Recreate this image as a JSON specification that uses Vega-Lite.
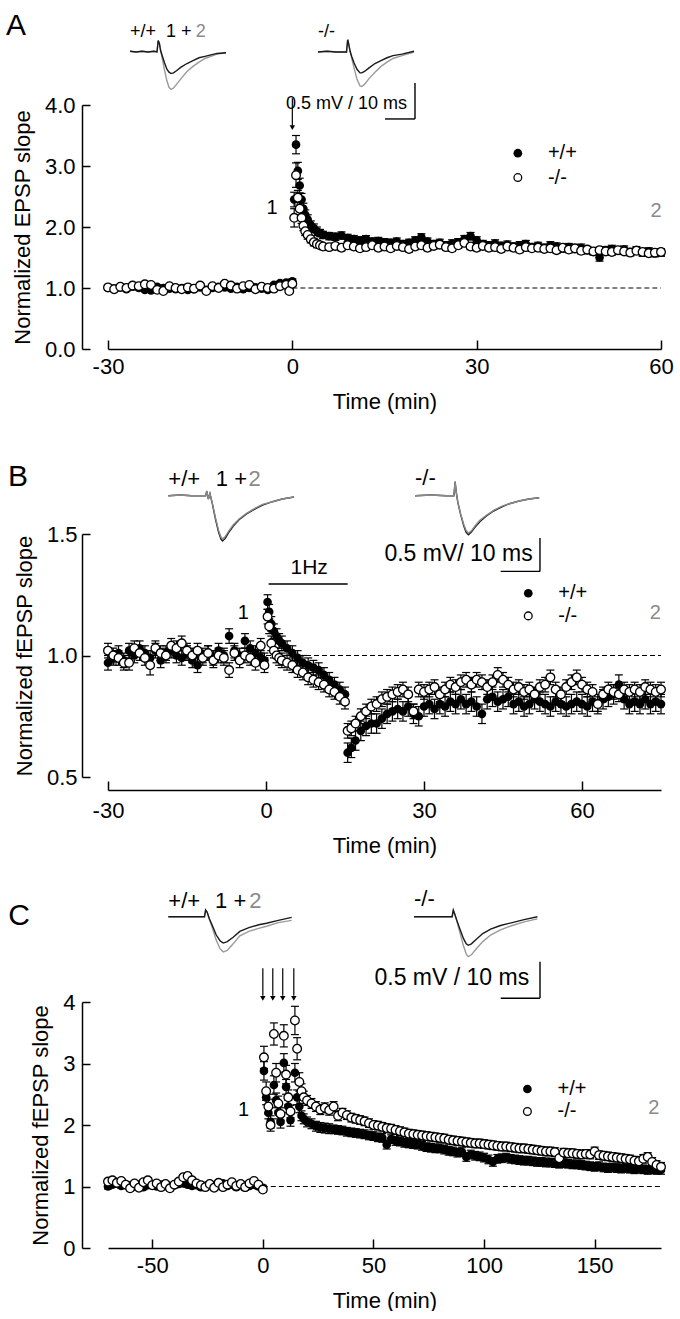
{
"$schema":"https://vega.github.io/schema/vega-lite/v6.json",
"background":"white",
"padding":{"left":6,"top":0,"right":0,"bottom":0},
"bounds":"flush",
"spacing":0,
"config":{"view":{"stroke":null},"font":"Liberation Sans",
"axis":{"grid":false,"labelFont":"Liberation Sans","titleFont":"Liberation Sans","labelFontSize":22,"titleFontSize":22,"titleFontWeight":"normal","labelColor":"black","titleColor":"black","domainColor":"black","tickColor":"black","domainWidth":1.5,"tickWidth":1.5,"labelFlush":false,"labelOverlap":false}},
"datasets":{
"A":[
{"t":-30,"wt":1.00,"se1":0.03,"ko":1.01,"se2":0.03},{"t":-29,"wt":0.99,"se1":0.03,"ko":0.98,"se2":0.03},{"t":-28,"wt":1.01,"se1":0.03,"ko":1.02,"se2":0.03},{"t":-27,"wt":0.98,"se1":0.03,"ko":1.00,"se2":0.03},{"t":-26,"wt":1.02,"se1":0.03,"ko":1.04,"se2":0.03},{"t":-25,"wt":1.00,"se1":0.03,"ko":1.03,"se2":0.03},{"t":-24,"wt":0.97,"se1":0.03,"ko":1.06,"se2":0.03},{"t":-23,"wt":0.96,"se1":0.03,"ko":1.05,"se2":0.03},{"t":-22,"wt":1.02,"se1":0.03,"ko":0.97,"se2":0.03},{"t":-21,"wt":1.00,"se1":0.03,"ko":0.95,"se2":0.03},{"t":-20,"wt":0.99,"se1":0.03,"ko":1.03,"se2":0.03},{"t":-19,"wt":0.98,"se1":0.03,"ko":1.00,"se2":0.03},{"t":-18,"wt":1.00,"se1":0.03,"ko":0.98,"se2":0.03},{"t":-17,"wt":0.97,"se1":0.03,"ko":1.01,"se2":0.03},{"t":-16,"wt":0.98,"se1":0.03,"ko":0.99,"se2":0.03},{"t":-15,"wt":1.01,"se1":0.03,"ko":1.04,"se2":0.03},{"t":-14,"wt":0.97,"se1":0.03,"ko":0.95,"se2":0.03},{"t":-13,"wt":1.00,"se1":0.03,"ko":1.03,"se2":0.03},{"t":-12,"wt":1.02,"se1":0.03,"ko":1.00,"se2":0.03},{"t":-11,"wt":1.01,"se1":0.03,"ko":1.07,"se2":0.03},{"t":-10,"wt":0.99,"se1":0.03,"ko":1.04,"se2":0.03},{"t":-9,"wt":1.02,"se1":0.03,"ko":0.99,"se2":0.03},{"t":-8,"wt":0.98,"se1":0.03,"ko":1.03,"se2":0.03},{"t":-7,"wt":1.00,"se1":0.03,"ko":1.05,"se2":0.03},{"t":-6,"wt":1.01,"se1":0.03,"ko":0.98,"se2":0.03},{"t":-5,"wt":0.99,"se1":0.03,"ko":1.02,"se2":0.03},{"t":-4,"wt":0.97,"se1":0.03,"ko":1.00,"se2":0.03},{"t":-3,"wt":1.05,"se1":0.03,"ko":0.99,"se2":0.03},{"t":-2,"wt":1.08,"se1":0.03,"ko":1.03,"se2":0.03},{"t":-1,"wt":1.09,"se1":0.03,"ko":1.05,"se2":0.03},{"t":-0.5,"wt":1.07,"se1":0.03,"ko":0.95,"se2":0.04},{"t":0,"wt":1.11,"se1":0.04,"ko":1.07,"se2":0.04},
{"t":0.3,"wt":2.45,"se1":0.12,"ko":2.15,"se2":0.15},{"t":0.6,"wt":3.35,"se1":0.15,"ko":2.85,"se2":0.20},{"t":0.9,"wt":2.92,"se1":0.14,"ko":2.48,"se2":0.12},{"t":1.2,"wt":2.68,"se1":0.12,"ko":2.30,"se2":0.10},{"t":1.5,"wt":2.45,"se1":0.10,"ko":2.15,"se2":0.09},{"t":1.8,"wt":2.30,"se1":0.09,"ko":2.02,"se2":0.08},{"t":2.1,"wt":2.20,"se1":0.08,"ko":1.93,"se2":0.07},{"t":2.5,"wt":2.12,"se1":0.08,"ko":1.87,"se2":0.07},{"t":3,"wt":2.03,"se1":0.07,"ko":1.80,"se2":0.06},{"t":3.5,"wt":1.98,"se1":0.07,"ko":1.75,"se2":0.06},{"t":4,"wt":1.93,"se1":0.07,"ko":1.72,"se2":0.06},{"t":4.5,"wt":1.90,"se1":0.06,"ko":1.70,"se2":0.05},
{"t":5,"wt":1.87,"se1":0.06,"ko":1.68,"se2":0.05},{"t":6,"wt":1.85,"se1":0.06,"ko":1.67,"se2":0.05},{"t":7,"wt":1.84,"se1":0.06,"ko":1.69,"se2":0.05},{"t":8,"wt":1.86,"se1":0.06,"ko":1.66,"se2":0.05},{"t":9,"wt":1.82,"se1":0.06,"ko":1.70,"se2":0.05},{"t":10,"wt":1.80,"se1":0.06,"ko":1.68,"se2":0.05},{"t":11,"wt":1.78,"se1":0.06,"ko":1.65,"se2":0.05},{"t":12,"wt":1.80,"se1":0.06,"ko":1.67,"se2":0.05},{"t":13,"wt":1.76,"se1":0.06,"ko":1.70,"se2":0.05},{"t":14,"wt":1.77,"se1":0.06,"ko":1.66,"se2":0.05},{"t":15,"wt":1.75,"se1":0.06,"ko":1.68,"se2":0.05},{"t":16,"wt":1.74,"se1":0.06,"ko":1.65,"se2":0.05},{"t":17,"wt":1.76,"se1":0.06,"ko":1.69,"se2":0.05},{"t":18,"wt":1.72,"se1":0.06,"ko":1.67,"se2":0.05},{"t":19,"wt":1.74,"se1":0.06,"ko":1.64,"se2":0.05},{"t":20,"wt":1.78,"se1":0.06,"ko":1.68,"se2":0.05},{"t":21,"wt":1.83,"se1":0.06,"ko":1.70,"se2":0.05},{"t":22,"wt":1.76,"se1":0.06,"ko":1.66,"se2":0.05},{"t":23,"wt":1.72,"se1":0.06,"ko":1.69,"se2":0.05},{"t":24,"wt":1.74,"se1":0.06,"ko":1.71,"se2":0.05},{"t":25,"wt":1.70,"se1":0.06,"ko":1.67,"se2":0.05},{"t":26,"wt":1.73,"se1":0.06,"ko":1.65,"se2":0.05},{"t":27,"wt":1.75,"se1":0.06,"ko":1.70,"se2":0.05},{"t":28,"wt":1.80,"se1":0.06,"ko":1.74,"se2":0.05},{"t":29,"wt":1.85,"se1":0.06,"ko":1.68,"se2":0.05},{"t":30,"wt":1.78,"se1":0.06,"ko":1.66,"se2":0.05},{"t":31,"wt":1.72,"se1":0.06,"ko":1.69,"se2":0.05},{"t":32,"wt":1.70,"se1":0.06,"ko":1.66,"se2":0.05},{"t":33,"wt":1.73,"se1":0.06,"ko":1.67,"se2":0.05},{"t":34,"wt":1.69,"se1":0.06,"ko":1.64,"se2":0.05},{"t":35,"wt":1.71,"se1":0.06,"ko":1.68,"se2":0.05},{"t":36,"wt":1.68,"se1":0.06,"ko":1.66,"se2":0.05},{"t":37,"wt":1.70,"se1":0.06,"ko":1.63,"se2":0.05},{"t":38,"wt":1.72,"se1":0.06,"ko":1.67,"se2":0.05},{"t":39,"wt":1.67,"se1":0.06,"ko":1.65,"se2":0.05},{"t":40,"wt":1.69,"se1":0.06,"ko":1.66,"se2":0.05},{"t":41,"wt":1.66,"se1":0.06,"ko":1.64,"se2":0.05},{"t":42,"wt":1.70,"se1":0.06,"ko":1.65,"se2":0.05},{"t":43,"wt":1.68,"se1":0.06,"ko":1.62,"se2":0.05},{"t":44,"wt":1.65,"se1":0.06,"ko":1.66,"se2":0.05},{"t":45,"wt":1.67,"se1":0.06,"ko":1.63,"se2":0.05},{"t":46,"wt":1.64,"se1":0.06,"ko":1.65,"se2":0.05},{"t":47,"wt":1.66,"se1":0.06,"ko":1.61,"se2":0.05},{"t":48,"wt":1.62,"se1":0.06,"ko":1.63,"se2":0.05},{"t":49,"wt":1.60,"se1":0.06,"ko":1.60,"se2":0.05},{"t":50,"wt":1.50,"se1":0.06,"ko":1.62,"se2":0.05},{"t":51,"wt":1.62,"se1":0.06,"ko":1.60,"se2":0.05},{"t":52,"wt":1.64,"se1":0.06,"ko":1.59,"se2":0.05},{"t":53,"wt":1.61,"se1":0.06,"ko":1.62,"se2":0.05},{"t":54,"wt":1.63,"se1":0.06,"ko":1.60,"se2":0.05},{"t":55,"wt":1.59,"se1":0.06,"ko":1.58,"se2":0.05},{"t":56,"wt":1.62,"se1":0.06,"ko":1.61,"se2":0.05},{"t":57,"wt":1.58,"se1":0.06,"ko":1.59,"se2":0.05},{"t":58,"wt":1.60,"se1":0.06,"ko":1.57,"se2":0.05},{"t":59,"wt":1.57,"se1":0.06,"ko":1.58,"se2":0.05},{"t":60,"wt":1.58,"se1":0.06,"ko":1.59,"se2":0.05}],
"B":[
{"t":-30,"wt":0.97,"se1":0.03,"ko":1.02,"se2":0.03},{"t":-29,"wt":0.99,"se1":0.03,"ko":1.00,"se2":0.03},{"t":-28,"wt":1.01,"se1":0.03,"ko":0.99,"se2":0.03},{"t":-27,"wt":0.98,"se1":0.03,"ko":0.97,"se2":0.03},{"t":-26,"wt":1.02,"se1":0.03,"ko":0.97,"se2":0.03},{"t":-25,"wt":1.00,"se1":0.03,"ko":1.03,"se2":0.03},{"t":-24,"wt":1.03,"se1":0.03,"ko":1.01,"se2":0.03},{"t":-23,"wt":1.01,"se1":0.03,"ko":0.99,"se2":0.03},{"t":-22,"wt":0.99,"se1":0.03,"ko":0.96,"se2":0.04},{"t":-21,"wt":1.02,"se1":0.03,"ko":1.03,"se2":0.03},{"t":-20,"wt":0.98,"se1":0.03,"ko":1.01,"se2":0.03},{"t":-19,"wt":1.01,"se1":0.03,"ko":1.00,"se2":0.03},{"t":-18,"wt":1.02,"se1":0.03,"ko":1.04,"se2":0.03},{"t":-17,"wt":1.00,"se1":0.03,"ko":1.03,"se2":0.03},{"t":-16,"wt":0.99,"se1":0.03,"ko":1.05,"se2":0.03},{"t":-15,"wt":1.01,"se1":0.03,"ko":1.02,"se2":0.03},{"t":-14,"wt":0.98,"se1":0.03,"ko":1.00,"se2":0.03},{"t":-13,"wt":0.96,"se1":0.03,"ko":1.02,"se2":0.03},{"t":-12,"wt":1.00,"se1":0.03,"ko":0.99,"se2":0.03},{"t":-11,"wt":1.01,"se1":0.03,"ko":1.01,"se2":0.03},{"t":-10,"wt":0.99,"se1":0.03,"ko":0.98,"se2":0.03},{"t":-9,"wt":1.02,"se1":0.03,"ko":1.00,"se2":0.03},{"t":-8,"wt":1.00,"se1":0.03,"ko":0.99,"se2":0.03},{"t":-7,"wt":1.08,"se1":0.03,"ko":0.94,"se2":0.03},{"t":-6,"wt":1.02,"se1":0.03,"ko":1.01,"se2":0.03},{"t":-5,"wt":1.00,"se1":0.03,"ko":0.98,"se2":0.03},{"t":-4,"wt":1.06,"se1":0.03,"ko":1.00,"se2":0.03},{"t":-3,"wt":1.03,"se1":0.03,"ko":0.99,"se2":0.03},{"t":-2,"wt":1.01,"se1":0.03,"ko":0.97,"se2":0.03},{"t":-1,"wt":0.99,"se1":0.03,"ko":1.04,"se2":0.03},{"t":-0.3,"wt":0.98,"se1":0.03,"ko":0.96,"se2":0.03},
{"t":0.3,"wt":1.22,"se1":0.03,"ko":1.16,"se2":0.03},{"t":0.6,"wt":1.18,"se1":0.03,"ko":1.12,"se2":0.03},{"t":1,"wt":1.13,"se1":0.03,"ko":1.05,"se2":0.03},{"t":1.5,"wt":1.10,"se1":0.03,"ko":1.02,"se2":0.03},{"t":2,"wt":1.08,"se1":0.03,"ko":1.00,"se2":0.03},{"t":2.5,"wt":1.06,"se1":0.03,"ko":0.99,"se2":0.03},{"t":3,"wt":1.05,"se1":0.03,"ko":0.98,"se2":0.03},{"t":4,"wt":1.03,"se1":0.03,"ko":0.97,"se2":0.03},{"t":5,"wt":1.01,"se1":0.03,"ko":0.96,"se2":0.03},{"t":6,"wt":0.99,"se1":0.03,"ko":0.94,"se2":0.03},{"t":7,"wt":0.97,"se1":0.03,"ko":0.93,"se2":0.03},{"t":8,"wt":0.96,"se1":0.03,"ko":0.91,"se2":0.03},{"t":9,"wt":0.95,"se1":0.03,"ko":0.90,"se2":0.03},{"t":10,"wt":0.94,"se1":0.03,"ko":0.89,"se2":0.03},{"t":11,"wt":0.92,"se1":0.03,"ko":0.88,"se2":0.03},{"t":12,"wt":0.90,"se1":0.03,"ko":0.86,"se2":0.03},{"t":13,"wt":0.88,"se1":0.03,"ko":0.85,"se2":0.03},{"t":14,"wt":0.86,"se1":0.03,"ko":0.83,"se2":0.03},{"t":15,"wt":0.84,"se1":0.03,"ko":0.81,"se2":0.03},
{"t":15.5,"wt":0.60,"se1":0.04,"ko":0.69,"se2":0.03},{"t":16.2,"wt":0.62,"se1":0.04,"ko":0.70,"se2":0.03},{"t":17,"wt":0.65,"se1":0.04,"ko":0.72,"se2":0.03},{"t":18,"wt":0.69,"se1":0.04,"ko":0.75,"se2":0.03},{"t":19,"wt":0.71,"se1":0.04,"ko":0.77,"se2":0.03},{"t":20,"wt":0.72,"se1":0.04,"ko":0.79,"se2":0.03},{"t":21,"wt":0.72,"se1":0.04,"ko":0.80,"se2":0.03},{"t":22,"wt":0.74,"se1":0.04,"ko":0.82,"se2":0.03},{"t":23,"wt":0.76,"se1":0.04,"ko":0.83,"se2":0.03},{"t":24,"wt":0.77,"se1":0.04,"ko":0.84,"se2":0.03},{"t":25,"wt":0.78,"se1":0.04,"ko":0.85,"se2":0.03},{"t":26,"wt":0.77,"se1":0.04,"ko":0.86,"se2":0.03},{"t":27,"wt":0.79,"se1":0.04,"ko":0.84,"se2":0.03},{"t":28,"wt":0.76,"se1":0.04,"ko":0.77,"se2":0.03},{"t":29,"wt":0.75,"se1":0.04,"ko":0.86,"se2":0.03},{"t":30,"wt":0.79,"se1":0.04,"ko":0.85,"se2":0.03},{"t":31,"wt":0.80,"se1":0.04,"ko":0.86,"se2":0.03},{"t":32,"wt":0.78,"se1":0.04,"ko":0.87,"se2":0.03},{"t":33,"wt":0.80,"se1":0.04,"ko":0.84,"se2":0.03},{"t":34,"wt":0.79,"se1":0.04,"ko":0.86,"se2":0.03},{"t":35,"wt":0.81,"se1":0.04,"ko":0.88,"se2":0.03},{"t":36,"wt":0.80,"se1":0.04,"ko":0.87,"se2":0.03},{"t":37,"wt":0.82,"se1":0.04,"ko":0.89,"se2":0.03},{"t":38,"wt":0.80,"se1":0.04,"ko":0.90,"se2":0.03},{"t":39,"wt":0.81,"se1":0.04,"ko":0.88,"se2":0.03},{"t":40,"wt":0.79,"se1":0.04,"ko":0.90,"se2":0.03},{"t":41,"wt":0.76,"se1":0.04,"ko":0.89,"se2":0.03},{"t":42,"wt":0.82,"se1":0.04,"ko":0.87,"se2":0.03},{"t":43,"wt":0.83,"se1":0.04,"ko":0.89,"se2":0.03},{"t":44,"wt":0.81,"se1":0.04,"ko":0.92,"se2":0.03},{"t":45,"wt":0.82,"se1":0.04,"ko":0.90,"se2":0.03},{"t":46,"wt":0.83,"se1":0.04,"ko":0.88,"se2":0.03},{"t":47,"wt":0.80,"se1":0.04,"ko":0.86,"se2":0.03},{"t":48,"wt":0.81,"se1":0.04,"ko":0.87,"se2":0.03},{"t":49,"wt":0.79,"se1":0.04,"ko":0.85,"se2":0.03},{"t":50,"wt":0.80,"se1":0.04,"ko":0.86,"se2":0.03},{"t":51,"wt":0.82,"se1":0.04,"ko":0.84,"se2":0.03},{"t":52,"wt":0.81,"se1":0.04,"ko":0.87,"se2":0.03},{"t":53,"wt":0.80,"se1":0.04,"ko":0.88,"se2":0.03},{"t":54,"wt":0.79,"se1":0.04,"ko":0.91,"se2":0.03},{"t":55,"wt":0.81,"se1":0.04,"ko":0.86,"se2":0.03},{"t":56,"wt":0.80,"se1":0.04,"ko":0.84,"se2":0.03},{"t":57,"wt":0.79,"se1":0.04,"ko":0.87,"se2":0.03},{"t":58,"wt":0.80,"se1":0.04,"ko":0.89,"se2":0.03},{"t":59,"wt":0.81,"se1":0.04,"ko":0.91,"se2":0.03},{"t":60,"wt":0.80,"se1":0.04,"ko":0.88,"se2":0.03},{"t":61,"wt":0.79,"se1":0.04,"ko":0.86,"se2":0.03},{"t":62,"wt":0.81,"se1":0.04,"ko":0.85,"se2":0.03},{"t":63,"wt":0.80,"se1":0.04,"ko":0.80,"se2":0.03},{"t":64,"wt":0.82,"se1":0.04,"ko":0.84,"se2":0.03},{"t":65,"wt":0.83,"se1":0.04,"ko":0.86,"se2":0.03},{"t":66,"wt":0.84,"se1":0.04,"ko":0.85,"se2":0.03},{"t":67,"wt":0.88,"se1":0.04,"ko":0.84,"se2":0.03},{"t":68,"wt":0.82,"se1":0.04,"ko":0.86,"se2":0.03},{"t":69,"wt":0.80,"se1":0.04,"ko":0.85,"se2":0.03},{"t":70,"wt":0.81,"se1":0.04,"ko":0.86,"se2":0.03},{"t":71,"wt":0.80,"se1":0.04,"ko":0.85,"se2":0.03},{"t":72,"wt":0.82,"se1":0.04,"ko":0.87,"se2":0.03},{"t":73,"wt":0.80,"se1":0.04,"ko":0.86,"se2":0.03},{"t":74,"wt":0.81,"se1":0.04,"ko":0.85,"se2":0.03},{"t":75,"wt":0.80,"se1":0.04,"ko":0.86,"se2":0.03}],
"C":[
{"t":-70,"wt":1.00,"se1":0.04,"ko":1.08,"se2":0.04},{"t":-68,"wt":1.03,"se1":0.04,"ko":1.10,"se2":0.04},{"t":-66,"wt":1.05,"se1":0.04,"ko":1.06,"se2":0.04},{"t":-64,"wt":1.01,"se1":0.04,"ko":1.09,"se2":0.04},{"t":-62,"wt":1.04,"se1":0.04,"ko":1.03,"se2":0.04},{"t":-60,"wt":1.02,"se1":0.04,"ko":0.97,"se2":0.04},{"t":-58,"wt":1.00,"se1":0.04,"ko":1.05,"se2":0.04},{"t":-56,"wt":1.03,"se1":0.04,"ko":0.98,"se2":0.04},{"t":-54,"wt":0.99,"se1":0.04,"ko":1.07,"se2":0.04},{"t":-52,"wt":1.02,"se1":0.04,"ko":1.10,"se2":0.04},{"t":-50,"wt":1.04,"se1":0.04,"ko":1.02,"se2":0.04},{"t":-48,"wt":1.00,"se1":0.04,"ko":1.05,"se2":0.04},{"t":-46,"wt":1.03,"se1":0.04,"ko":0.99,"se2":0.04},{"t":-44,"wt":1.01,"se1":0.04,"ko":1.04,"se2":0.04},{"t":-42,"wt":0.99,"se1":0.04,"ko":0.97,"se2":0.04},{"t":-40,"wt":1.02,"se1":0.04,"ko":1.03,"se2":0.04},{"t":-38,"wt":1.04,"se1":0.04,"ko":1.08,"se2":0.04},{"t":-36,"wt":1.05,"se1":0.04,"ko":1.15,"se2":0.04},{"t":-34,"wt":1.03,"se1":0.04,"ko":1.17,"se2":0.04},{"t":-32,"wt":1.01,"se1":0.04,"ko":1.10,"se2":0.04},{"t":-30,"wt":1.02,"se1":0.04,"ko":1.05,"se2":0.04},{"t":-28,"wt":0.99,"se1":0.04,"ko":1.02,"se2":0.04},{"t":-26,"wt":1.01,"se1":0.04,"ko":0.99,"se2":0.04},{"t":-24,"wt":1.03,"se1":0.04,"ko":1.04,"se2":0.04},{"t":-22,"wt":1.00,"se1":0.04,"ko":0.98,"se2":0.04},{"t":-20,"wt":1.02,"se1":0.04,"ko":1.06,"se2":0.04},{"t":-18,"wt":1.05,"se1":0.04,"ko":0.99,"se2":0.04},{"t":-16,"wt":1.01,"se1":0.04,"ko":1.03,"se2":0.04},{"t":-14,"wt":1.03,"se1":0.04,"ko":1.07,"se2":0.04},{"t":-12,"wt":0.99,"se1":0.04,"ko":1.01,"se2":0.04},{"t":-10,"wt":1.02,"se1":0.04,"ko":1.04,"se2":0.04},{"t":-8,"wt":0.98,"se1":0.04,"ko":0.99,"se2":0.04},{"t":-6,"wt":1.01,"se1":0.04,"ko":1.05,"se2":0.04},{"t":-4,"wt":1.03,"se1":0.04,"ko":1.09,"se2":0.04},{"t":-2,"wt":1.00,"se1":0.04,"ko":1.03,"se2":0.04},{"t":0,"wt":0.98,"se1":0.04,"ko":0.95,"se2":0.04},
{"t":0.5,"wt":2.88,"se1":0.15,"ko":3.10,"se2":0.18},{"t":1.5,"wt":2.45,"se1":0.12,"ko":2.55,"se2":0.15},{"t":2.5,"wt":2.20,"se1":0.10,"ko":2.30,"se2":0.12},{"t":3.5,"wt":2.05,"se1":0.10,"ko":2.00,"se2":0.10},{"t":5,"wt":2.65,"se1":0.15,"ko":3.48,"se2":0.18},{"t":6,"wt":2.40,"se1":0.12,"ko":2.85,"se2":0.15},{"t":7,"wt":2.20,"se1":0.10,"ko":2.35,"se2":0.12},{"t":8,"wt":2.05,"se1":0.10,"ko":2.18,"se2":0.10},{"t":9.5,"wt":3.01,"se1":0.15,"ko":3.45,"se2":0.18},{"t":10.5,"wt":2.62,"se1":0.12,"ko":2.82,"se2":0.15},{"t":11.5,"wt":2.30,"se1":0.10,"ko":2.45,"se2":0.12},{"t":12.5,"wt":2.08,"se1":0.10,"ko":2.22,"se2":0.10},{"t":14.5,"wt":2.85,"se1":0.15,"ko":3.70,"se2":0.23},{"t":15.5,"wt":2.45,"se1":0.12,"ko":3.24,"se2":0.18},{"t":16.5,"wt":2.30,"se1":0.10,"ko":2.70,"se2":0.15},{"t":17.5,"wt":2.15,"se1":0.08,"ko":2.55,"se2":0.12},{"t":18.5,"wt":2.10,"se1":0.08,"ko":2.45,"se2":0.10},
{"t":20,"wt":2.05,"se1":0.08,"ko":2.40,"se2":0.08},{"t":22,"wt":2.02,"se1":0.08,"ko":2.35,"se2":0.08},{"t":24,"wt":1.98,"se1":0.08,"ko":2.30,"se2":0.08},{"t":26,"wt":1.96,"se1":0.08,"ko":2.25,"se2":0.08},{"t":28,"wt":1.95,"se1":0.08,"ko":2.28,"se2":0.08},{"t":30,"wt":1.94,"se1":0.08,"ko":2.24,"se2":0.08},{"t":32,"wt":1.93,"se1":0.07,"ko":2.30,"se2":0.08},{"t":34,"wt":1.92,"se1":0.07,"ko":2.15,"se2":0.08},{"t":36,"wt":1.91,"se1":0.07,"ko":2.20,"se2":0.07},{"t":38,"wt":1.89,"se1":0.07,"ko":2.16,"se2":0.07},{"t":40,"wt":1.88,"se1":0.07,"ko":2.12,"se2":0.07},{"t":42,"wt":1.87,"se1":0.07,"ko":2.10,"se2":0.07},{"t":44,"wt":1.86,"se1":0.07,"ko":2.08,"se2":0.07},{"t":46,"wt":1.85,"se1":0.07,"ko":2.06,"se2":0.07},{"t":48,"wt":1.83,"se1":0.07,"ko":2.03,"se2":0.07},{"t":50,"wt":1.82,"se1":0.07,"ko":2.00,"se2":0.07},{"t":52,"wt":1.80,"se1":0.07,"ko":1.99,"se2":0.07},{"t":54,"wt":1.79,"se1":0.07,"ko":1.97,"se2":0.07},{"t":56,"wt":1.68,"se1":0.07,"ko":1.95,"se2":0.07},{"t":58,"wt":1.77,"se1":0.07,"ko":1.94,"se2":0.07},{"t":60,"wt":1.74,"se1":0.07,"ko":1.92,"se2":0.07},{"t":62,"wt":1.73,"se1":0.07,"ko":1.90,"se2":0.07},{"t":64,"wt":1.71,"se1":0.07,"ko":1.88,"se2":0.07},{"t":66,"wt":1.70,"se1":0.07,"ko":1.86,"se2":0.07},{"t":68,"wt":1.69,"se1":0.07,"ko":1.85,"se2":0.07},{"t":70,"wt":1.68,"se1":0.07,"ko":1.84,"se2":0.07},{"t":72,"wt":1.66,"se1":0.07,"ko":1.83,"se2":0.07},{"t":74,"wt":1.64,"se1":0.07,"ko":1.82,"se2":0.07},{"t":76,"wt":1.63,"se1":0.07,"ko":1.81,"se2":0.07},{"t":78,"wt":1.62,"se1":0.07,"ko":1.80,"se2":0.07},{"t":80,"wt":1.62,"se1":0.07,"ko":1.79,"se2":0.07},{"t":82,"wt":1.60,"se1":0.07,"ko":1.78,"se2":0.07},{"t":84,"wt":1.58,"se1":0.07,"ko":1.76,"se2":0.07},{"t":86,"wt":1.57,"se1":0.07,"ko":1.75,"se2":0.07},{"t":88,"wt":1.55,"se1":0.07,"ko":1.74,"se2":0.07},{"t":90,"wt":1.56,"se1":0.07,"ko":1.73,"se2":0.07},{"t":92,"wt":1.48,"se1":0.07,"ko":1.72,"se2":0.07},{"t":94,"wt":1.52,"se1":0.07,"ko":1.71,"se2":0.07},{"t":96,"wt":1.50,"se1":0.07,"ko":1.70,"se2":0.07},{"t":98,"wt":1.49,"se1":0.07,"ko":1.70,"se2":0.07},{"t":100,"wt":1.47,"se1":0.07,"ko":1.69,"se2":0.07},{"t":102,"wt":1.44,"se1":0.07,"ko":1.68,"se2":0.07},{"t":104,"wt":1.40,"se1":0.07,"ko":1.67,"se2":0.07},{"t":106,"wt":1.45,"se1":0.07,"ko":1.66,"se2":0.07},{"t":108,"wt":1.46,"se1":0.07,"ko":1.65,"se2":0.07},{"t":110,"wt":1.47,"se1":0.07,"ko":1.65,"se2":0.07},{"t":112,"wt":1.45,"se1":0.07,"ko":1.64,"se2":0.07},{"t":114,"wt":1.44,"se1":0.07,"ko":1.63,"se2":0.07},{"t":116,"wt":1.43,"se1":0.07,"ko":1.62,"se2":0.07},{"t":118,"wt":1.42,"se1":0.07,"ko":1.62,"se2":0.07},{"t":120,"wt":1.42,"se1":0.07,"ko":1.61,"se2":0.07},{"t":122,"wt":1.41,"se1":0.07,"ko":1.60,"se2":0.07},{"t":124,"wt":1.40,"se1":0.07,"ko":1.59,"se2":0.07},{"t":126,"wt":1.40,"se1":0.07,"ko":1.58,"se2":0.07},{"t":128,"wt":1.39,"se1":0.07,"ko":1.57,"se2":0.07},{"t":130,"wt":1.39,"se1":0.07,"ko":1.57,"se2":0.07},{"t":132,"wt":1.38,"se1":0.07,"ko":1.56,"se2":0.07},{"t":134,"wt":1.37,"se1":0.07,"ko":1.46,"se2":0.07},{"t":136,"wt":1.38,"se1":0.07,"ko":1.55,"se2":0.07},{"t":138,"wt":1.37,"se1":0.07,"ko":1.54,"se2":0.07},{"t":140,"wt":1.36,"se1":0.07,"ko":1.54,"se2":0.07},{"t":142,"wt":1.36,"se1":0.07,"ko":1.53,"se2":0.07},{"t":144,"wt":1.35,"se1":0.07,"ko":1.52,"se2":0.07},{"t":146,"wt":1.34,"se1":0.07,"ko":1.53,"se2":0.07},{"t":148,"wt":1.33,"se1":0.07,"ko":1.52,"se2":0.07},{"t":150,"wt":1.32,"se1":0.07,"ko":1.57,"se2":0.07},{"t":152,"wt":1.33,"se1":0.07,"ko":1.51,"se2":0.07},{"t":154,"wt":1.31,"se1":0.07,"ko":1.50,"se2":0.07},{"t":156,"wt":1.30,"se1":0.07,"ko":1.49,"se2":0.07},{"t":158,"wt":1.31,"se1":0.07,"ko":1.48,"se2":0.07},{"t":160,"wt":1.30,"se1":0.07,"ko":1.47,"se2":0.07},{"t":162,"wt":1.29,"se1":0.07,"ko":1.46,"se2":0.07},{"t":164,"wt":1.30,"se1":0.07,"ko":1.45,"se2":0.07},{"t":166,"wt":1.29,"se1":0.07,"ko":1.44,"se2":0.07},{"t":168,"wt":1.28,"se1":0.07,"ko":1.42,"se2":0.07},{"t":170,"wt":1.29,"se1":0.07,"ko":1.41,"se2":0.07},{"t":172,"wt":1.28,"se1":0.07,"ko":1.45,"se2":0.07},{"t":174,"wt":1.27,"se1":0.07,"ko":1.48,"se2":0.07},{"t":176,"wt":1.28,"se1":0.07,"ko":1.40,"se2":0.07},{"t":178,"wt":1.27,"se1":0.07,"ko":1.35,"se2":0.07},{"t":180,"wt":1.27,"se1":0.07,"ko":1.32,"se2":0.07}],
"tetC":[{"t":0},{"t":4.5},{"t":9},{"t":14}],
"trA_wt":[{"t":0,"c1":0.01,"c2":0.01},{"t":2,"c1":0,"c2":0},{"t":4,"c1":0.01,"c2":0.01},{"t":6,"c1":0,"c2":0},{"t":8,"c1":0.01,"c2":0.01},{"t":9,"c1":0,"c2":0},{"t":9.4,"c1":0.16,"c2":0.16},{"t":9.8,"c1":0.12,"c2":0.12},{"t":10.2,"c1":0.02,"c2":0.02},{"t":10.8,"c1":-0.06,"c2":-0.10},{"t":11.5,"c1":-0.15,"c2":-0.25},{"t":12.3,"c1":-0.24,"c2":-0.40},{"t":13,"c1":-0.28,"c2":-0.49},{"t":13.7,"c1":-0.30,"c2":-0.52},{"t":14.5,"c1":-0.29,"c2":-0.50},{"t":15.5,"c1":-0.26,"c2":-0.45},{"t":17,"c1":-0.21,"c2":-0.37},{"t":19,"c1":-0.16,"c2":-0.27},{"t":21,"c1":-0.12,"c2":-0.20},{"t":23,"c1":-0.08,"c2":-0.14},{"t":25,"c1":-0.06,"c2":-0.09},{"t":27,"c1":-0.04,"c2":-0.06},{"t":29,"c1":-0.02,"c2":-0.03},{"t":32,"c1":-0.01,"c2":-0.01}],
"trA_ko":[{"t":0,"c1":0,"c2":0},{"t":3,"c1":0.01,"c2":0.01},{"t":6,"c1":0,"c2":0},{"t":9.5,"c1":0,"c2":0},{"t":9.9,"c1":0.17,"c2":0.17},{"t":10.3,"c1":0.10,"c2":0.10},{"t":10.7,"c1":0.01,"c2":0.01},{"t":11.3,"c1":-0.07,"c2":-0.10},{"t":12,"c1":-0.15,"c2":-0.22},{"t":13,"c1":-0.24,"c2":-0.38},{"t":14,"c1":-0.29,"c2":-0.47},{"t":14.6,"c1":-0.29,"c2":-0.48},{"t":15.5,"c1":-0.27,"c2":-0.45},{"t":17,"c1":-0.22,"c2":-0.37},{"t":19,"c1":-0.16,"c2":-0.28},{"t":21,"c1":-0.12,"c2":-0.20},{"t":23,"c1":-0.08,"c2":-0.14},{"t":25,"c1":-0.05,"c2":-0.09},{"t":28,"c1":-0.03,"c2":-0.05},{"t":32,"c1":0.01,"c2":0}],
"trB_wt":[{"t":0,"c1":0,"c2":0},{"t":3,"c1":0.01,"c2":0.01},{"t":6,"c1":0,"c2":0},{"t":9.5,"c1":0,"c2":0},{"t":9.8,"c1":0.07,"c2":0.07},{"t":10.2,"c1":-0.05,"c2":-0.05},{"t":10.6,"c1":0.03,"c2":0.03},{"t":11.2,"c1":-0.12,"c2":-0.11},{"t":12,"c1":-0.35,"c2":-0.33},{"t":12.8,"c1":-0.55,"c2":-0.52},{"t":13.4,"c1":-0.65,"c2":-0.62},{"t":13.8,"c1":-0.68,"c2":-0.65},{"t":14.5,"c1":-0.64,"c2":-0.61},{"t":15.5,"c1":-0.54,"c2":-0.52},{"t":16.5,"c1":-0.46,"c2":-0.44},{"t":18,"c1":-0.36,"c2":-0.35},{"t":20,"c1":-0.27,"c2":-0.26},{"t":22,"c1":-0.20,"c2":-0.19},{"t":24,"c1":-0.14,"c2":-0.13},{"t":26.5,"c1":-0.09,"c2":-0.09},{"t":29,"c1":-0.05,"c2":-0.05},{"t":32,"c1":-0.02,"c2":-0.02}],
"trB_ko":[{"t":0,"c1":0,"c2":0},{"t":4,"c1":0.01,"c2":0.01},{"t":8,"c1":0,"c2":0},{"t":9.9,"c1":0,"c2":0},{"t":10.2,"c1":0.21,"c2":0.21},{"t":10.5,"c1":0.05,"c2":0.05},{"t":10.9,"c1":-0.10,"c2":-0.10},{"t":11.6,"c1":-0.28,"c2":-0.27},{"t":12.4,"c1":-0.45,"c2":-0.43},{"t":13,"c1":-0.55,"c2":-0.52},{"t":13.6,"c1":-0.585,"c2":-0.56},{"t":14.3,"c1":-0.55,"c2":-0.53},{"t":15.3,"c1":-0.47,"c2":-0.45},{"t":16.5,"c1":-0.39,"c2":-0.37},{"t":18,"c1":-0.31,"c2":-0.30},{"t":20,"c1":-0.23,"c2":-0.22},{"t":22,"c1":-0.17,"c2":-0.16},{"t":24,"c1":-0.12,"c2":-0.12},{"t":26.5,"c1":-0.08,"c2":-0.08},{"t":29,"c1":-0.05,"c2":-0.05},{"t":31.6,"c1":-0.03,"c2":-0.03}],
"trC_wt":[{"t":0,"c1":0,"c2":0},{"t":4,"c1":0,"c2":0},{"t":8,"c1":0,"c2":0},{"t":9.2,"c1":0,"c2":0},{"t":9.5,"c1":0.09,"c2":0.09},{"t":9.9,"c1":0.06,"c2":0.06},{"t":10.4,"c1":-0.02,"c2":-0.03},{"t":11.2,"c1":-0.12,"c2":-0.15},{"t":12.2,"c1":-0.25,"c2":-0.32},{"t":13.2,"c1":-0.33,"c2":-0.44},{"t":14,"c1":-0.36,"c2":-0.48},{"t":15,"c1":-0.34,"c2":-0.46},{"t":16.5,"c1":-0.28,"c2":-0.37},{"t":18.2,"c1":-0.20,"c2":-0.26},{"t":20.5,"c1":-0.15,"c2":-0.20},{"t":23,"c1":-0.11,"c2":-0.16},{"t":25,"c1":-0.09,"c2":-0.13},{"t":28,"c1":-0.05,"c2":-0.08},{"t":31.4,"c1":-0.01,"c2":-0.05}],
"trC_ko":[{"t":0,"c1":0,"c2":0},{"t":4,"c1":0,"c2":0},{"t":8,"c1":0,"c2":0},{"t":9.7,"c1":0,"c2":0},{"t":10,"c1":0.09,"c2":0.09},{"t":10.4,"c1":0.03,"c2":0.03},{"t":10.9,"c1":-0.05,"c2":-0.06},{"t":11.7,"c1":-0.17,"c2":-0.22},{"t":12.6,"c1":-0.30,"c2":-0.40},{"t":13.3,"c1":-0.37,"c2":-0.51},{"t":13.8,"c1":-0.39,"c2":-0.545},{"t":14.6,"c1":-0.37,"c2":-0.52},{"t":15.8,"c1":-0.31,"c2":-0.44},{"t":17.5,"c1":-0.23,"c2":-0.34},{"t":19.5,"c1":-0.17,"c2":-0.25},{"t":22,"c1":-0.12,"c2":-0.18},{"t":25,"c1":-0.08,"c2":-0.12},{"t":28,"c1":-0.04,"c2":-0.07},{"t":31.4,"c1":0,"c2":-0.03}]
},
"vconcat":[
{"width":553,"height":105,"resolve":{"scale":{"x":"independent"}},
"layer":[
{"data":{"name":"trA_wt"},"mark":{"type":"line","color":"#9a9a9a","strokeWidth":1.4},"encoding":{"x":{"field":"t","type":"quantitative","scale":{"domain":[-7.333,177],"nice":false,"zero":false},"axis":null},"y":{"field":"c2","type":"quantitative","scale":{"domain":[-0.7361,0.7222],"nice":false,"zero":false},"axis":null}}},
{"data":{"name":"trA_wt"},"mark":{"type":"line","color":"#1a1a1a","strokeWidth":1.4},"encoding":{"x":{"field":"t","type":"quantitative","scale":{"domain":[-7.333,177],"nice":false,"zero":false},"axis":null},"y":{"field":"c1","type":"quantitative","scale":{"domain":[-0.7361,0.7222],"nice":false,"zero":false},"axis":null}}},
{"data":{"name":"trA_ko"},"mark":{"type":"line","color":"#9a9a9a","strokeWidth":1.4},"encoding":{"x":{"field":"t","type":"quantitative","scale":{"domain":[-70,114.333],"nice":false,"zero":false},"axis":null},"y":{"field":"c2","type":"quantitative","scale":{"domain":[-0.7361,0.7222],"nice":false,"zero":false},"axis":null}}},
{"data":{"name":"trA_ko"},"mark":{"type":"line","color":"#1a1a1a","strokeWidth":1.4},"encoding":{"x":{"field":"t","type":"quantitative","scale":{"domain":[-70,114.333],"nice":false,"zero":false},"axis":null},"y":{"field":"c1","type":"quantitative","scale":{"domain":[-0.7361,0.7222],"nice":false,"zero":false},"axis":null}}},
{"data":{"values":[{}]},"mark":{"type":"text","text":"A","fontSize":30,"align":"left","baseline":"middle","color":"black"},"encoding":{"x":{"datum":-41.33,"type":"quantitative","scale":{"domain":[-7.333,177],"nice":false,"zero":false},"axis":null},"y":{"datum":0.361,"type":"quantitative","axis":null}}},
{"data":{"values":[{}]},"mark":{"type":"text","text":"+/+","fontSize":18,"align":"left","baseline":"middle","color":"black"},"encoding":{"x":{"datum":0,"type":"quantitative","scale":{"domain":[-7.333,177],"nice":false,"zero":false},"axis":null},"y":{"datum":0.28,"type":"quantitative","axis":null}}},
{"data":{"values":[{}]},"mark":{"type":"text","text":"1 +","fontSize":18,"align":"left","baseline":"middle","color":"black"},"encoding":{"x":{"datum":12,"type":"quantitative","scale":{"domain":[-7.333,177],"nice":false,"zero":false},"axis":null},"y":{"datum":0.28,"type":"quantitative","axis":null}}},
{"data":{"values":[{}]},"mark":{"type":"text","text":"2","fontSize":18,"align":"left","baseline":"middle","color":"#8a8a8a"},"encoding":{"x":{"datum":21.9,"type":"quantitative","scale":{"domain":[-7.333,177],"nice":false,"zero":false},"axis":null},"y":{"datum":0.28,"type":"quantitative","axis":null}}},
{"data":{"values":[{}]},"mark":{"type":"text","text":"-/-","fontSize":18,"align":"left","baseline":"middle","color":"black"},"encoding":{"x":{"datum":0,"type":"quantitative","scale":{"domain":[-70,114.333],"nice":false,"zero":false},"axis":null},"y":{"datum":0.28,"type":"quantitative","axis":null}}},
{"data":{"values":[{}]},"mark":{"type":"text","text":"0.5 mV / 10 ms","fontSize":18,"align":"right","baseline":"middle","color":"black"},"encoding":{"x":{"datum":29.67,"type":"quantitative","scale":{"domain":[-70,114.333],"nice":false,"zero":false},"axis":null},"y":{"datum":-0.72,"type":"quantitative","axis":null}}},
{"data":{"values":[{}]},"mark":{"type":"rule","color":"black","strokeWidth":1.4},"encoding":{"x":{"datum":22.33,"type":"quantitative","scale":{"domain":[-70,114.333],"nice":false,"zero":false},"axis":null},"x2":{"datum":32.33},"y":{"datum":-0.93,"type":"quantitative","axis":null}}},
{"data":{"values":[{}]},"mark":{"type":"rule","color":"black","strokeWidth":1.4},"encoding":{"x":{"datum":32.33,"type":"quantitative","scale":{"domain":[-70,114.333],"nice":false,"zero":false},"axis":null},"y":{"datum":-0.43,"type":"quantitative","axis":null},"y2":{"datum":-0.93}}}
]},
{"width":553,"height":244,"data":{"name":"A"},
"layer":[
{"data":{"values":[{}]},"mark":{"type":"rule","color":"black","strokeWidth":1.2,"strokeDash":[5,3]},"encoding":{"x":{"datum":0,"type":"quantitative"},"x2":{"datum":60},"y":{"datum":1,"type":"quantitative"}}},
{"mark":{"type":"errorbar","color":"black","ticks":{"size":8,"thickness":1.2,"opacity":1},"rule":{"strokeWidth":1.2}},"encoding":{"x":{"field":"t","type":"quantitative","title":"Time (min)","scale":{"domain":[-30,60],"nice":false,"zero":false},"axis":{"values":[-30,0,30,60],"labelExpr":"'' + datum.value","tickSize":-9,"labelPadding":16,"titlePadding":14}},"y":{"field":"wt","type":"quantitative","title":"Normalized EPSP slope","scale":{"domain":[0,4],"nice":false,"zero":false},"axis":{"values":[0,1,2,3,4],"format":".1f","offset":26,"tickSize":-8,"labelPadding":15,"titlePadding":10}},"yError":{"field":"se1"}}},
{"mark":{"type":"point","filled":true,"size":75,"color":"black","opacity":1},"encoding":{"x":{"field":"t","type":"quantitative","title":"Time (min)"},"y":{"field":"wt","type":"quantitative","title":"Normalized EPSP slope"}}},
{"mark":{"type":"errorbar","color":"black","ticks":{"size":8,"thickness":1.2,"opacity":1},"rule":{"strokeWidth":1.2}},"encoding":{"x":{"field":"t","type":"quantitative","title":"Time (min)"},"y":{"field":"ko","type":"quantitative","title":"Normalized EPSP slope"},"yError":{"field":"se2"}}},
{"mark":{"type":"point","filled":true,"size":75,"fill":"white","stroke":"black","strokeWidth":1.3,"opacity":1},"encoding":{"x":{"field":"t","type":"quantitative","title":"Time (min)"},"y":{"field":"ko","type":"quantitative","title":"Normalized EPSP slope"}}},
{"data":{"values":[{}]},"mark":{"type":"rule","color":"black","strokeWidth":1.2},"encoding":{"x":{"datum":0,"type":"quantitative"},"y":{"datum":4.11,"type":"quantitative"},"y2":{"datum":3.66}}},
{"data":{"values":[{}]},"mark":{"type":"point","shape":"triangle-down","filled":true,"size":30,"color":"black","opacity":1},"encoding":{"x":{"datum":0,"type":"quantitative"},"y":{"datum":3.63,"type":"quantitative"}}},
{"data":{"values":[{}]},"mark":{"type":"text","text":"1","fontSize":20,"align":"center","baseline":"middle","color":"black"},"encoding":{"x":{"datum":-3.3,"type":"quantitative"},"y":{"datum":2.31,"type":"quantitative"}}},
{"data":{"values":[{}]},"mark":{"type":"text","text":"2","fontSize":20,"align":"center","baseline":"middle","color":"#8a8a8a"},"encoding":{"x":{"datum":59.2,"type":"quantitative"},"y":{"datum":2.27,"type":"quantitative"}}},
{"data":{"values":[{}]},"mark":{"type":"point","filled":true,"size":75,"color":"black","opacity":1},"encoding":{"x":{"datum":36.7,"type":"quantitative"},"y":{"datum":3.21,"type":"quantitative"}}},
{"data":{"values":[{}]},"mark":{"type":"point","filled":true,"size":60,"fill":"white","stroke":"black","strokeWidth":1.3,"opacity":1},"encoding":{"x":{"datum":36.7,"type":"quantitative"},"y":{"datum":2.81,"type":"quantitative"}}},
{"data":{"values":[{}]},"mark":{"type":"text","text":"+/+","fontSize":20,"align":"left","baseline":"middle","color":"black"},"encoding":{"x":{"datum":41.6,"type":"quantitative"},"y":{"datum":3.21,"type":"quantitative"}}},
{"data":{"values":[{}]},"mark":{"type":"text","text":"-/-","fontSize":20,"align":"left","baseline":"middle","color":"black"},"encoding":{"x":{"datum":41.6,"type":"quantitative"},"y":{"datum":2.81,"type":"quantitative"}}}
]},
{"width":553,"height":185,"resolve":{"scale":{"x":"independent"}},
"layer":[
{"data":{"name":"trB_wt"},"mark":{"type":"line","color":"#1a1a1a","strokeWidth":1.4},"encoding":{"x":{"field":"t","type":"quantitative","scale":{"domain":[-15.344,125.369],"nice":false,"zero":false},"axis":null},"y":{"field":"c1","type":"quantitative","scale":{"domain":[-0.5742,2.1994],"nice":false,"zero":false},"axis":null}}},
{"data":{"name":"trB_wt"},"mark":{"type":"line","color":"#8a8a8a","strokeWidth":1.4},"encoding":{"x":{"field":"t","type":"quantitative","scale":{"domain":[-15.344,125.369],"nice":false,"zero":false},"axis":null},"y":{"field":"c2","type":"quantitative","scale":{"domain":[-0.5742,2.1994],"nice":false,"zero":false},"axis":null}}},
{"data":{"name":"trB_ko"},"mark":{"type":"line","color":"#1a1a1a","strokeWidth":1.4},"encoding":{"x":{"field":"t","type":"quantitative","scale":{"domain":[-78.117,62.595],"nice":false,"zero":false},"axis":null},"y":{"field":"c1","type":"quantitative","scale":{"domain":[-0.5742,2.1994],"nice":false,"zero":false},"axis":null}}},
{"data":{"name":"trB_ko"},"mark":{"type":"line","color":"#8a8a8a","strokeWidth":1.4},"encoding":{"x":{"field":"t","type":"quantitative","scale":{"domain":[-78.117,62.595],"nice":false,"zero":false},"axis":null},"y":{"field":"c2","type":"quantitative","scale":{"domain":[-0.5742,2.1994],"nice":false,"zero":false},"axis":null}}},
{"data":{"values":[{}]},"mark":{"type":"text","text":"B","fontSize":30,"align":"left","baseline":"middle","color":"black"},"encoding":{"x":{"datum":-40.79,"type":"quantitative","scale":{"domain":[-15.344,125.369],"nice":false,"zero":false},"axis":null},"y":{"datum":0.273,"type":"quantitative","axis":null}}},
{"data":{"values":[{}]},"mark":{"type":"text","text":"+/+","fontSize":22,"align":"left","baseline":"middle","color":"black"},"encoding":{"x":{"datum":0,"type":"quantitative","scale":{"domain":[-15.344,125.369],"nice":false,"zero":false},"axis":null},"y":{"datum":0.246,"type":"quantitative","axis":null}}},
{"data":{"values":[{}]},"mark":{"type":"text","text":"1 +","fontSize":22,"align":"left","baseline":"middle","color":"black"},"encoding":{"x":{"datum":12.1,"type":"quantitative","scale":{"domain":[-15.344,125.369],"nice":false,"zero":false},"axis":null},"y":{"datum":0.246,"type":"quantitative","axis":null}}},
{"data":{"values":[{}]},"mark":{"type":"text","text":"2","fontSize":22,"align":"left","baseline":"middle","color":"#8a8a8a"},"encoding":{"x":{"datum":20.4,"type":"quantitative","scale":{"domain":[-15.344,125.369],"nice":false,"zero":false},"axis":null},"y":{"datum":0.246,"type":"quantitative","axis":null}}},
{"data":{"values":[{}]},"mark":{"type":"text","text":"-/-","fontSize":22,"align":"left","baseline":"middle","color":"black"},"encoding":{"x":{"datum":0,"type":"quantitative","scale":{"domain":[-78.117,62.595],"nice":false,"zero":false},"axis":null},"y":{"datum":0.265,"type":"quantitative","axis":null}}},
{"data":{"values":[{}]},"mark":{"type":"text","text":"0.5 mV/ 10 ms","fontSize":23,"align":"right","baseline":"middle","color":"black"},"encoding":{"x":{"datum":29.95,"type":"quantitative","scale":{"domain":[-78.117,62.595],"nice":false,"zero":false},"axis":null},"y":{"datum":-0.874,"type":"quantitative","axis":null}}},
{"data":{"values":[{}]},"mark":{"type":"rule","color":"black","strokeWidth":1.4},"encoding":{"x":{"datum":21.8,"type":"quantitative","scale":{"domain":[-78.117,62.595],"nice":false,"zero":false},"axis":null},"x2":{"datum":31.8},"y":{"datum":-1.135,"type":"quantitative","axis":null}}},
{"data":{"values":[{}]},"mark":{"type":"rule","color":"black","strokeWidth":1.4},"encoding":{"x":{"datum":31.8,"type":"quantitative","scale":{"domain":[-78.117,62.595],"nice":false,"zero":false},"axis":null},"y":{"datum":-0.634,"type":"quantitative","axis":null},"y2":{"datum":-1.135}}}
]},
{"width":553,"height":243,"data":{"name":"B"},
"layer":[
{"data":{"values":[{}]},"mark":{"type":"rule","color":"black","strokeWidth":1.2,"strokeDash":[5,3]},"encoding":{"x":{"datum":0,"type":"quantitative"},"x2":{"datum":75},"y":{"datum":1,"type":"quantitative"}}},
{"mark":{"type":"errorbar","color":"black","ticks":{"size":8,"thickness":1.2,"opacity":1},"rule":{"strokeWidth":1.2}},"encoding":{"x":{"field":"t","type":"quantitative","title":"Time (min)","scale":{"domain":[-30,75],"nice":false,"zero":false},"axis":{"values":[-30,0,30,60],"labelExpr":"'' + datum.value","offset":13,"tickSize":-9,"labelPadding":19,"titlePadding":14}},"y":{"field":"wt","type":"quantitative","title":"Normalized fEPSP slope","scale":{"domain":[0.5,1.5],"nice":false,"zero":false},"axis":{"values":[0.5,1,1.5],"format":".1f","offset":26,"tickSize":-8,"labelPadding":13,"titlePadding":10}},"yError":{"field":"se1"}}},
{"mark":{"type":"point","filled":true,"size":75,"color":"black","opacity":1},"encoding":{"x":{"field":"t","type":"quantitative","title":"Time (min)"},"y":{"field":"wt","type":"quantitative","title":"Normalized fEPSP slope"}}},
{"mark":{"type":"errorbar","color":"black","ticks":{"size":8,"thickness":1.2,"opacity":1},"rule":{"strokeWidth":1.2}},"encoding":{"x":{"field":"t","type":"quantitative","title":"Time (min)"},"y":{"field":"ko","type":"quantitative","title":"Normalized fEPSP slope"},"yError":{"field":"se2"}}},
{"mark":{"type":"point","filled":true,"size":75,"fill":"white","stroke":"black","strokeWidth":1.3,"opacity":1},"encoding":{"x":{"field":"t","type":"quantitative","title":"Time (min)"},"y":{"field":"ko","type":"quantitative","title":"Normalized fEPSP slope"}}},
{"data":{"values":[{}]},"mark":{"type":"rule","color":"black","strokeWidth":1.5},"encoding":{"x":{"datum":0.5,"type":"quantitative"},"x2":{"datum":15.5},"y":{"datum":1.294,"type":"quantitative"}}},
{"data":{"values":[{}]},"mark":{"type":"text","text":"1Hz","fontSize":21,"align":"center","baseline":"middle","color":"black"},"encoding":{"x":{"datum":8.2,"type":"quantitative"},"y":{"datum":1.36,"type":"quantitative"}}},
{"data":{"values":[{}]},"mark":{"type":"text","text":"1","fontSize":20,"align":"center","baseline":"middle","color":"black"},"encoding":{"x":{"datum":-4.3,"type":"quantitative"},"y":{"datum":1.174,"type":"quantitative"}}},
{"data":{"values":[{}]},"mark":{"type":"text","text":"2","fontSize":20,"align":"center","baseline":"middle","color":"#8a8a8a"},"encoding":{"x":{"datum":73.9,"type":"quantitative"},"y":{"datum":1.174,"type":"quantitative"}}},
{"data":{"values":[{}]},"mark":{"type":"point","filled":true,"size":75,"color":"black","opacity":1},"encoding":{"x":{"datum":49.8,"type":"quantitative"},"y":{"datum":1.256,"type":"quantitative"}}},
{"data":{"values":[{}]},"mark":{"type":"point","filled":true,"size":60,"fill":"white","stroke":"black","strokeWidth":1.3,"opacity":1},"encoding":{"x":{"datum":49.8,"type":"quantitative"},"y":{"datum":1.163,"type":"quantitative"}}},
{"data":{"values":[{}]},"mark":{"type":"text","text":"+/+","fontSize":20,"align":"left","baseline":"middle","color":"black"},"encoding":{"x":{"datum":55.5,"type":"quantitative"},"y":{"datum":1.256,"type":"quantitative"}}},
{"data":{"values":[{}]},"mark":{"type":"text","text":"-/-","fontSize":20,"align":"left","baseline":"middle","color":"black"},"encoding":{"x":{"datum":55.5,"type":"quantitative"},"y":{"datum":1.163,"type":"quantitative"}}}
]},
{"width":553,"height":225,"resolve":{"scale":{"x":"independent"}},
"layer":[
{"data":{"name":"trC_wt"},"mark":{"type":"line","color":"#9a9a9a","strokeWidth":1.4},"encoding":{"x":{"field":"t","type":"quantitative","scale":{"domain":[-15.344,125.369],"nice":false,"zero":false},"axis":null},"y":{"field":"c2","type":"quantitative","scale":{"domain":[-1.1637,1.9059],"nice":false,"zero":false},"axis":null}}},
{"data":{"name":"trC_wt"},"mark":{"type":"line","color":"#1a1a1a","strokeWidth":1.4},"encoding":{"x":{"field":"t","type":"quantitative","scale":{"domain":[-15.344,125.369],"nice":false,"zero":false},"axis":null},"y":{"field":"c1","type":"quantitative","scale":{"domain":[-1.1637,1.9059],"nice":false,"zero":false},"axis":null}}},
{"data":{"name":"trC_ko"},"mark":{"type":"line","color":"#9a9a9a","strokeWidth":1.4},"encoding":{"x":{"field":"t","type":"quantitative","scale":{"domain":[-77.863,62.85],"nice":false,"zero":false},"axis":null},"y":{"field":"c2","type":"quantitative","scale":{"domain":[-1.1637,1.9059],"nice":false,"zero":false},"axis":null}}},
{"data":{"name":"trC_ko"},"mark":{"type":"line","color":"#1a1a1a","strokeWidth":1.4},"encoding":{"x":{"field":"t","type":"quantitative","scale":{"domain":[-77.863,62.85],"nice":false,"zero":false},"axis":null},"y":{"field":"c1","type":"quantitative","scale":{"domain":[-1.1637,1.9059],"nice":false,"zero":false},"axis":null}}},
{"data":{"values":[{}]},"mark":{"type":"text","text":"C","fontSize":30,"align":"left","baseline":"middle","color":"black"},"encoding":{"x":{"datum":-40.7,"type":"quantitative","scale":{"domain":[-15.344,125.369],"nice":false,"zero":false},"axis":null},"y":{"datum":0.012,"type":"quantitative","axis":null}}},
{"data":{"values":[{}]},"mark":{"type":"text","text":"+/+","fontSize":22,"align":"left","baseline":"middle","color":"black"},"encoding":{"x":{"datum":0,"type":"quantitative","scale":{"domain":[-15.344,125.369],"nice":false,"zero":false},"axis":null},"y":{"datum":0.22,"type":"quantitative","axis":null}}},
{"data":{"values":[{}]},"mark":{"type":"text","text":"1 +","fontSize":22,"align":"left","baseline":"middle","color":"black"},"encoding":{"x":{"datum":11.9,"type":"quantitative","scale":{"domain":[-15.344,125.369],"nice":false,"zero":false},"axis":null},"y":{"datum":0.22,"type":"quantitative","axis":null}}},
{"data":{"values":[{}]},"mark":{"type":"text","text":"2","fontSize":22,"align":"left","baseline":"middle","color":"#8a8a8a"},"encoding":{"x":{"datum":20.6,"type":"quantitative","scale":{"domain":[-15.344,125.369],"nice":false,"zero":false},"axis":null},"y":{"datum":0.22,"type":"quantitative","axis":null}}},
{"data":{"values":[{}]},"mark":{"type":"text","text":"-/-","fontSize":22,"align":"left","baseline":"middle","color":"black"},"encoding":{"x":{"datum":0,"type":"quantitative","scale":{"domain":[-77.863,62.85],"nice":false,"zero":false},"axis":null},"y":{"datum":0.237,"type":"quantitative","axis":null}}},
{"data":{"values":[{}]},"mark":{"type":"text","text":"0.5 mV / 10 ms","fontSize":23,"align":"right","baseline":"middle","color":"black"},"encoding":{"x":{"datum":29.3,"type":"quantitative","scale":{"domain":[-77.863,62.85],"nice":false,"zero":false},"axis":null},"y":{"datum":-0.84,"type":"quantitative","axis":null}}},
{"data":{"values":[{}]},"mark":{"type":"rule","color":"black","strokeWidth":1.4},"encoding":{"x":{"datum":22.06,"type":"quantitative","scale":{"domain":[-77.863,62.85],"nice":false,"zero":false},"axis":null},"x2":{"datum":32.06},"y":{"datum":-1.113,"type":"quantitative","axis":null}}},
{"data":{"values":[{}]},"mark":{"type":"rule","color":"black","strokeWidth":1.4},"encoding":{"x":{"datum":32.06,"type":"quantitative","scale":{"domain":[-77.863,62.85],"nice":false,"zero":false},"axis":null},"y":{"datum":-0.614,"type":"quantitative","axis":null},"y2":{"datum":-1.113}}}
]},
{"width":553,"height":246,"data":{"name":"C"},
"layer":[
{"data":{"values":[{}]},"mark":{"type":"rule","color":"black","strokeWidth":1.2,"strokeDash":[5,3]},"encoding":{"x":{"datum":0,"type":"quantitative"},"x2":{"datum":180},"y":{"datum":1,"type":"quantitative"}}},
{"mark":{"type":"errorbar","color":"black","ticks":{"size":8,"thickness":1.2,"opacity":1},"rule":{"strokeWidth":1.2}},"encoding":{"x":{"field":"t","type":"quantitative","title":"Time (min)","scale":{"domain":[-70,180],"nice":false,"zero":false},"axis":{"values":[-50,0,50,100,150],"labelExpr":"'' + datum.value","tickSize":-9,"labelPadding":16,"titlePadding":14}},"y":{"field":"wt","type":"quantitative","title":"Normalized fEPSP slope","scale":{"domain":[0,4],"nice":false,"zero":false},"axis":{"values":[0,1,2,3,4],"format":"d","offset":26,"tickSize":-8,"labelPadding":15,"titlePadding":10}},"yError":{"field":"se1"}}},
{"mark":{"type":"point","filled":true,"size":75,"color":"black","opacity":1},"encoding":{"x":{"field":"t","type":"quantitative","title":"Time (min)"},"y":{"field":"wt","type":"quantitative","title":"Normalized fEPSP slope"}}},
{"mark":{"type":"errorbar","color":"black","ticks":{"size":8,"thickness":1.2,"opacity":1},"rule":{"strokeWidth":1.2}},"encoding":{"x":{"field":"t","type":"quantitative","title":"Time (min)"},"y":{"field":"ko","type":"quantitative","title":"Normalized fEPSP slope"},"yError":{"field":"se2"}}},
{"mark":{"type":"point","filled":true,"size":75,"fill":"white","stroke":"black","strokeWidth":1.3,"opacity":1},"encoding":{"x":{"field":"t","type":"quantitative","title":"Time (min)"},"y":{"field":"ko","type":"quantitative","title":"Normalized fEPSP slope"}}},
{"data":{"name":"tetC"},"mark":{"type":"rule","color":"black","strokeWidth":1.2},"encoding":{"x":{"field":"t","type":"quantitative","title":"Time (min)"},"y":{"datum":4.55,"type":"quantitative"},"y2":{"datum":4.1}}},
{"data":{"name":"tetC"},"mark":{"type":"point","shape":"triangle-down","filled":true,"size":30,"color":"black","opacity":1},"encoding":{"x":{"field":"t","type":"quantitative","title":"Time (min)"},"y":{"datum":4.06,"type":"quantitative"}}},
{"data":{"values":[{}]},"mark":{"type":"text","text":"1","fontSize":20,"align":"center","baseline":"middle","color":"black"},"encoding":{"x":{"datum":-8.7,"type":"quantitative"},"y":{"datum":2.25,"type":"quantitative"}}},
{"data":{"values":[{}]},"mark":{"type":"text","text":"2","fontSize":20,"align":"center","baseline":"middle","color":"#8a8a8a"},"encoding":{"x":{"datum":176.8,"type":"quantitative"},"y":{"datum":2.28,"type":"quantitative"}}},
{"data":{"values":[{}]},"mark":{"type":"point","filled":true,"size":75,"color":"black","opacity":1},"encoding":{"x":{"datum":119.6,"type":"quantitative"},"y":{"datum":2.585,"type":"quantitative"}}},
{"data":{"values":[{}]},"mark":{"type":"point","filled":true,"size":60,"fill":"white","stroke":"black","strokeWidth":1.3,"opacity":1},"encoding":{"x":{"datum":119.6,"type":"quantitative"},"y":{"datum":2.22,"type":"quantitative"}}},
{"data":{"values":[{}]},"mark":{"type":"text","text":"+/+","fontSize":20,"align":"left","baseline":"middle","color":"black"},"encoding":{"x":{"datum":133.2,"type":"quantitative"},"y":{"datum":2.585,"type":"quantitative"}}},
{"data":{"values":[{}]},"mark":{"type":"text","text":"-/-","fontSize":20,"align":"left","baseline":"middle","color":"black"},"encoding":{"x":{"datum":133.2,"type":"quantitative"},"y":{"datum":2.22,"type":"quantitative"}}}
]}
]
}
